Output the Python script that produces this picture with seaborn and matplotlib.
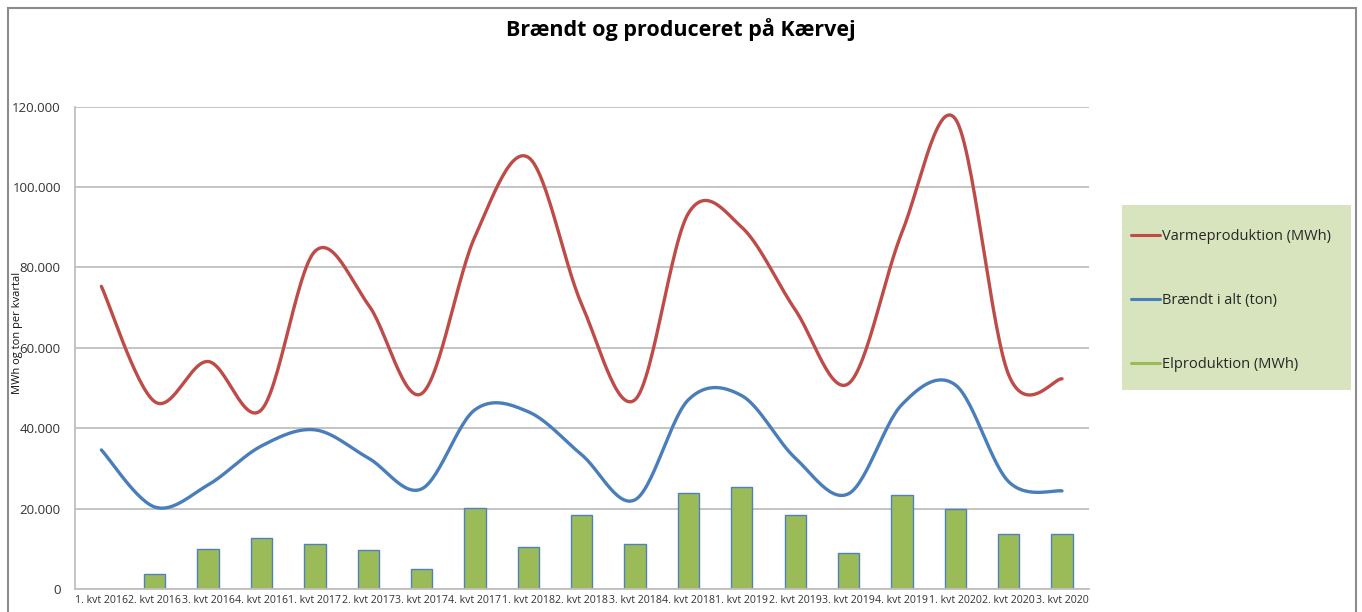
import numpy as np
import pandas as pd
import matplotlib
matplotlib.use("Agg")
import matplotlib.pyplot as plt
from matplotlib.lines import Line2D
from matplotlib.patches import Rectangle
import seaborn as sns

quarters = ["1. kvt 2016", "2. kvt 2016", "3. kvt 2016", "4. kvt 2016",
            "1. kvt 2017", "2. kvt 2017", "3. kvt 2017", "4. kvt 2017",
            "1. kvt 2018", "2. kvt 2018", "3. kvt 2018", "4. kvt 2018",
            "1. kvt 2019", "2. kvt 2019", "3. kvt 2019", "4. kvt 2019",
            "1. kvt 2020", "2. kvt 2020", "3. kvt 2020"]
varme = [75300, 46600, 56600, 44600, 84000, 70800, 48600, 87700, 107400, 70800,
         47100, 93500, 90000, 69500, 51100, 88700, 117000, 53300, 52300]
braendt = [34600, 20400, 25900, 35600, 39600, 32600, 24900, 44600, 44100, 33400,
           22200, 47100, 48100, 32600, 23700, 45900, 50800, 26700, 24400]
el = [0, 3700, 10000, 12700, 11200, 9700, 5000, 20200, 10500, 18400,
      11200, 23900, 25400, 18400, 9000, 23400, 19900, 13700, 13700]
yticks = [0, 20000, 40000, 60000, 80000, 100000, 120000]

C_RED = "#BE4B48"
C_BLUE = "#4A7EBB"
C_GREEN = "#9BBB59"
C_BAR_EDGE = "#4F81BD"
C_GRID = "#BFBFBF"

sns.set_theme(style="white")
plt.rcParams["font.family"] = ["Open Sans", "DejaVu Sans"]


def smooth(y, n=30):
    """Bezier smoothing like Excel's smoothed lines."""
    y = np.asarray(y, dtype=float)
    x = np.arange(len(y), dtype=float)
    xs, ys = [], []
    for i in range(len(y) - 1):
        p0 = (x[i - 1], y[i - 1]) if i > 0 else (x[i], y[i])
        p1 = (x[i], y[i])
        p2 = (x[i + 1], y[i + 1])
        p3 = (x[i + 2], y[i + 2]) if i + 2 < len(y) else (x[i + 1], y[i + 1])
        c1 = (p1[0] + (p2[0] - p0[0]) / 6, p1[1] + (p2[1] - p0[1]) / 6)
        c2 = (p2[0] - (p3[0] - p1[0]) / 6, p2[1] - (p3[1] - p1[1]) / 6)
        t = np.linspace(0, 1, n, endpoint=(i == len(y) - 2))
        bx = (1 - t) ** 3 * p1[0] + 3 * (1 - t) ** 2 * t * c1[0] + 3 * (1 - t) * t ** 2 * c2[0] + t ** 3 * p2[0]
        by = (1 - t) ** 3 * p1[1] + 3 * (1 - t) ** 2 * t * c1[1] + 3 * (1 - t) * t ** 2 * c2[1] + t ** 3 * p2[1]
        xs.append(bx)
        ys.append(by)
    return np.concatenate(xs), np.concatenate(ys)


W, H = 1362, 612
fig = plt.figure(figsize=(W / 100, H / 100), dpi=100)
ax = fig.add_axes([74.7 / W, 1 - 589 / H, (1088.7 - 74.7) / W, (589 - 106.7) / H])

df_bar = pd.DataFrame({"kvartal": quarters, "el": el})
sns.barplot(data=df_bar, x="kvartal", y="el", color=C_GREEN, width=0.4,
            edgecolor=C_BAR_EDGE, linewidth=1.0, saturation=1, ax=ax, zorder=2)

for vals, col in [(braendt, C_BLUE), (varme, C_RED)]:
    sx, sy = smooth(vals)
    sns.lineplot(x=sx, y=sy, sort=False, estimator=None, color=col,
                 linewidth=2.4, ax=ax, zorder=3)

ax.set_xlim(-0.5, len(quarters) - 0.5)
ax.set_ylim(0, 120000)
ax.set_yticks(yticks)
ax.set_yticklabels([f"{v:,}".replace(",", ".") for v in yticks], fontsize=9.5, color="#333333")
ax.set_xticks(range(len(quarters)))
ax.set_xticklabels(quarters, fontsize=7.6, color="#333333")
ax.tick_params(axis="y", length=0, pad=10)
ax.tick_params(axis="x", length=0, pad=4)
ax.grid(axis="y", color=C_GRID, linewidth=1.3, zorder=0)
ax.set_axisbelow(True)
for s in ["top", "right"]:
    ax.spines[s].set_visible(False)
for s in ["left", "bottom"]:
    ax.spines[s].set_color(C_GRID)
    ax.spines[s].set_linewidth(1.3)
ax.set_xlabel("")
ax.set_ylabel("")

fig.text(18 / W, 1 - 333 / H, "MWh og ton per kvartal", rotation=90,
         fontsize=8, ha="center", va="center", color="#111111")
fig.text(0.5, 1 - 30 / H, "Brændt og produceret på Kærvej", fontsize=15.5,
         fontweight="bold", ha="center", va="center", color="black")

# outer chart border
fig.patches.append(Rectangle((7.5 / W, -0.05), (1356 - 7.5) / W, 1 - 7.5 / H + 0.05,
                             transform=fig.transFigure, fill=False,
                             edgecolor="#8C8C8C", linewidth=1.5))
# legend background
fig.patches.append(Rectangle((1122 / W, 1 - 390 / H), (1351 - 1122) / W, (390 - 205) / H,
                             transform=fig.transFigure, facecolor="#D7E4BD",
                             edgecolor="none", zorder=0))

handles = [Line2D([], [], color=C_RED, linewidth=2.2),
           Line2D([], [], color=C_BLUE, linewidth=2.2),
           Line2D([], [], color=C_GREEN, linewidth=2.2)]
labels = ["Varmeproduktion (MWh)", "Brændt i alt (ton)", "Elproduktion (MWh)"]
fs = 10.5
leg = fig.legend(handles, labels, loc="upper left",
                 bbox_to_anchor=(1131 / W, 1 - 229 / H),
                 frameon=False, fontsize=fs,
                 handlelength=2.0, handletextpad=0.1, labelspacing=3.35,
                 borderpad=0, borderaxespad=0)

fig.savefig("out.png", dpi=100, facecolor="white")
